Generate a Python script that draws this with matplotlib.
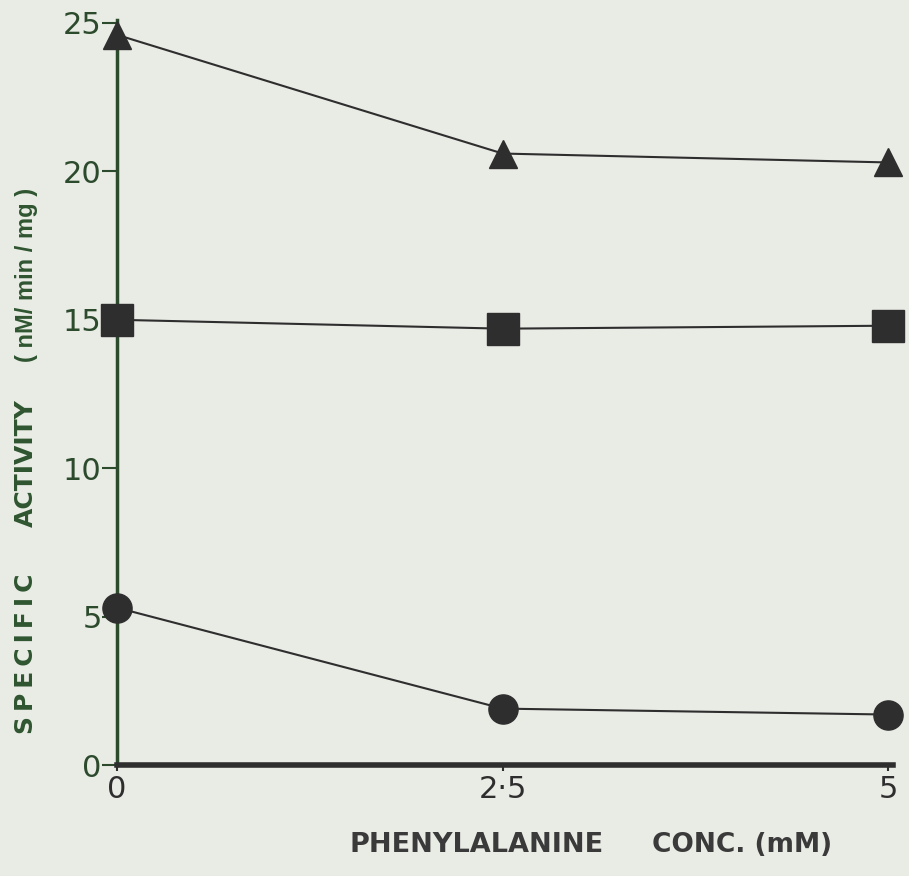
import matplotlib
matplotlib.use("Agg")
import matplotlib.pyplot as plt

# phenylalanine concentration (mM)
conc = [0, 2.5, 5]

# specific activity (nM/min/mg), three series
triangles = [24.6, 20.6, 20.3]
squares = [15.0, 14.7, 14.8]
circles = [5.3, 1.9, 1.7]

y_ticks = [0, 5, 10, 15, 20, 25]
x_ticks = [0, 2.5, 5]
x_tick_labels = ["0", "2·5", "5"]

BG = "#e9ebe5"
INK = "#2e2e2e"
GREEN_INK = "#2c4a2c"
LABEL_GREEN = "#2f5530"

plt.rcParams['font.family'] = ['DejaVu Sans']

fig = plt.figure(figsize=(9.09, 8.76), dpi=100, facecolor=BG)
ax = fig.add_axes([0.1287, 0.1267, 0.8537, 0.8505], facecolor=BG)

ax.plot(conc, triangles, color=INK, lw=1.5, marker='^', ms=20,
        mfc=INK, mec=INK, clip_on=False, zorder=3)
ax.plot(conc, squares, color=INK, lw=1.5, marker='s', ms=23,
        mfc=INK, mec=INK, clip_on=False, zorder=3)
ax.plot(conc, circles, color=INK, lw=1.5, marker='o', ms=21,
        mfc=INK, mec=INK, clip_on=False, zorder=3)

ax.set_xlim(0, 5.03)
ax.set_ylim(0, 25.1)

for side in ['top', 'right']:
    ax.spines[side].set_visible(False)
ax.spines['left'].set_color(GREEN_INK)
ax.spines['left'].set_linewidth(2.5)
ax.spines['bottom'].set_color(INK)
ax.spines['bottom'].set_linewidth(4)

ax.set_yticks(y_ticks)
ax.set_yticklabels([str(v) for v in y_ticks])
ax.tick_params(axis='y', direction='out', length=11, width=1.5,
               colors=GREEN_INK, labelsize=22, pad=0)
ax.set_xticks(x_ticks)
ax.set_xticklabels(x_tick_labels)
ax.tick_params(axis='x', direction='out', length=4, width=1.5,
               colors=INK, labelsize=22, pad=3)

# y axis title, in three spaced groups as in the original
ts = "\u2009"
fig.text(0.029, 1 - 654 / 876, ts.join("SPECIFIC"), rotation=90,
         ha='center', va='center', fontsize=18, fontweight='bold',
         color=LABEL_GREEN)
fig.text(0.029, 1 - 463 / 876, "ACTIVITY", rotation=90,
         ha='center', va='center', fontsize=18, fontweight='bold',
         color=LABEL_GREEN)
fig.text(0.029, 1 - 275 / 876, "( nM/ min / mg )", rotation=90,
         ha='center', va='center', fontsize=17, fontweight='bold',
         color=LABEL_GREEN, family='Liberation Sans')

# x axis title
fig.text(477 / 909, 1 - 845 / 876, "PHENYLALANINE", ha='center',
         va='center', fontsize=19.5, fontweight='bold', color="#3a3a3a")
fig.text(742 / 909, 1 - 845 / 876, "CONC. (mM)", ha='center',
         va='center', fontsize=19, fontweight='bold', color="#3a3a3a")

fig.savefig("out.png", dpi=100, facecolor=BG)
